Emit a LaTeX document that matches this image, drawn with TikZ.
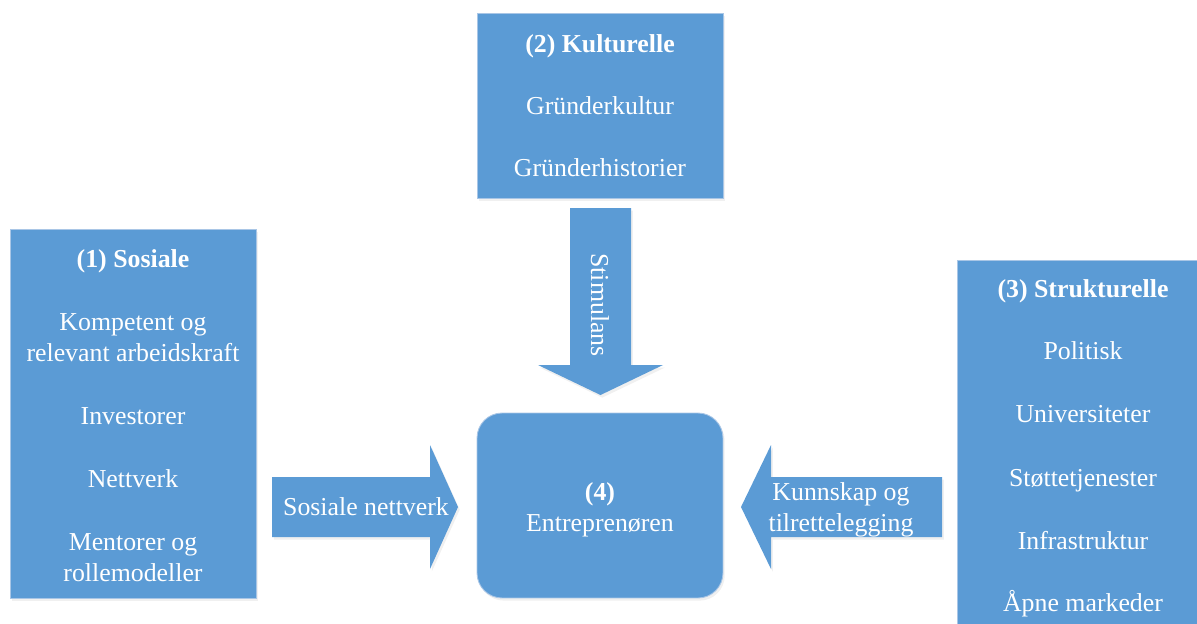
\documentclass[tikz,border=0pt]{standalone}
\usepackage{fontspec}
\setmainfont{Liberation Serif}
\usetikzlibrary{shadows}
\definecolor{boxblue}{HTML}{5B9BD5}
\definecolor{edgeblue}{HTML}{A9C6E6}
\tikzset{
  boxstyle/.style={rectangle, draw=edgeblue, line width=0.5pt, fill=boxblue,
    drop shadow={opacity=0.12, shadow xshift=1pt, shadow yshift=-1.5pt}},
  blockarrow/.style={fill=boxblue,
    drop shadow={opacity=0.12, shadow xshift=1pt, shadow yshift=-1.5pt}},
  lbl/.style={text=white, anchor=base, inner sep=0pt, font=\fontsize{14.7}{18}\selectfont},
  ttl/.style={lbl, font=\fontsize{14.7}{18}\selectfont\bfseries},
}
\begin{document}
\begin{tikzpicture}[x=0.02cm, y=-0.02cm]
    \useasboundingbox (0,0) rectangle (1197,623);

    % Draw the four boxes
    \node[boxstyle, minimum width=4.92cm, minimum height=7.38cm] (sos) at (133,413.5) {};
    \node[boxstyle, minimum width=4.92cm, minimum height=3.7cm] (kul) at (600,105.5) {};
    \node[boxstyle, minimum width=5.04cm, minimum height=7.8cm] (str) at (1083,455) {};
    \node[boxstyle, rounded corners=0.5cm, minimum width=4.92cm, minimum height=3.7cm] (ent) at (600,505.5) {};

    % Block arrows
    \fill[blockarrow] (570,208) -- (631,208) -- (631,365) -- (663,365) -- (600.5,395)
        -- (538,365) -- (570,365) -- cycle;
    \fill[blockarrow] (272,477) -- (430,477) -- (430,445) -- (458,507) -- (430,569)
        -- (430,537) -- (272,537) -- cycle;
    \fill[blockarrow] (942,477) -- (771,477) -- (771,445) -- (741,507) -- (771,569)
        -- (771,537) -- (942,537) -- cycle;

    % (1) Sosiale
    \node[ttl] (sos-t) at (133,267) {(1) Sosiale};
    \foreach \txt/\yy [count=\i] in {Kompetent og/330, relevant arbeidskraft/361,
        Investorer/424, Nettverk/487, Mentorer og/550, rollemodeller/581} {
        \node[lbl] (sos-\i) at (133,\yy) {\txt};
    }

    % (2) Kulturelle
    \node[ttl] (kul-t) at (600,52) {(2) Kulturelle};
    \foreach \txt/\yy [count=\i] in {Gründerkultur/114, Gründerhistorier/176} {
        \node[lbl] (kul-\i) at (600,\yy) {\txt};
    }

    % (3) Strukturelle
    \node[ttl] (str-t) at (1083,297) {(3) Strukturelle};
    \foreach \txt/\yy [count=\i] in {Politisk/359, Universiteter/422, Støttetjenester/486,
        Infrastruktur/549, Åpne markeder/611} {
        \node[lbl] (str-\i) at (1083,\yy) {\txt};
    }

    % (4) Entreprenøren
    \node[ttl] (ent-t) at (600,500) {(4)};
    \node[lbl] (ent-1) at (600,531) {Entreprenøren};

    % Arrow labels
    \node[lbl] (stim) at (600,305) [anchor=center, rotate=-90] {Stimulans};
    \node[lbl] (sosnet) at (366,515) {Sosiale nettverk};
    \node[lbl] (kunn-1) at (841,500) {Kunnskap og};
    \node[lbl] (kunn-2) at (841,531) {tilrettelegging};
\end{tikzpicture}
\end{document}
